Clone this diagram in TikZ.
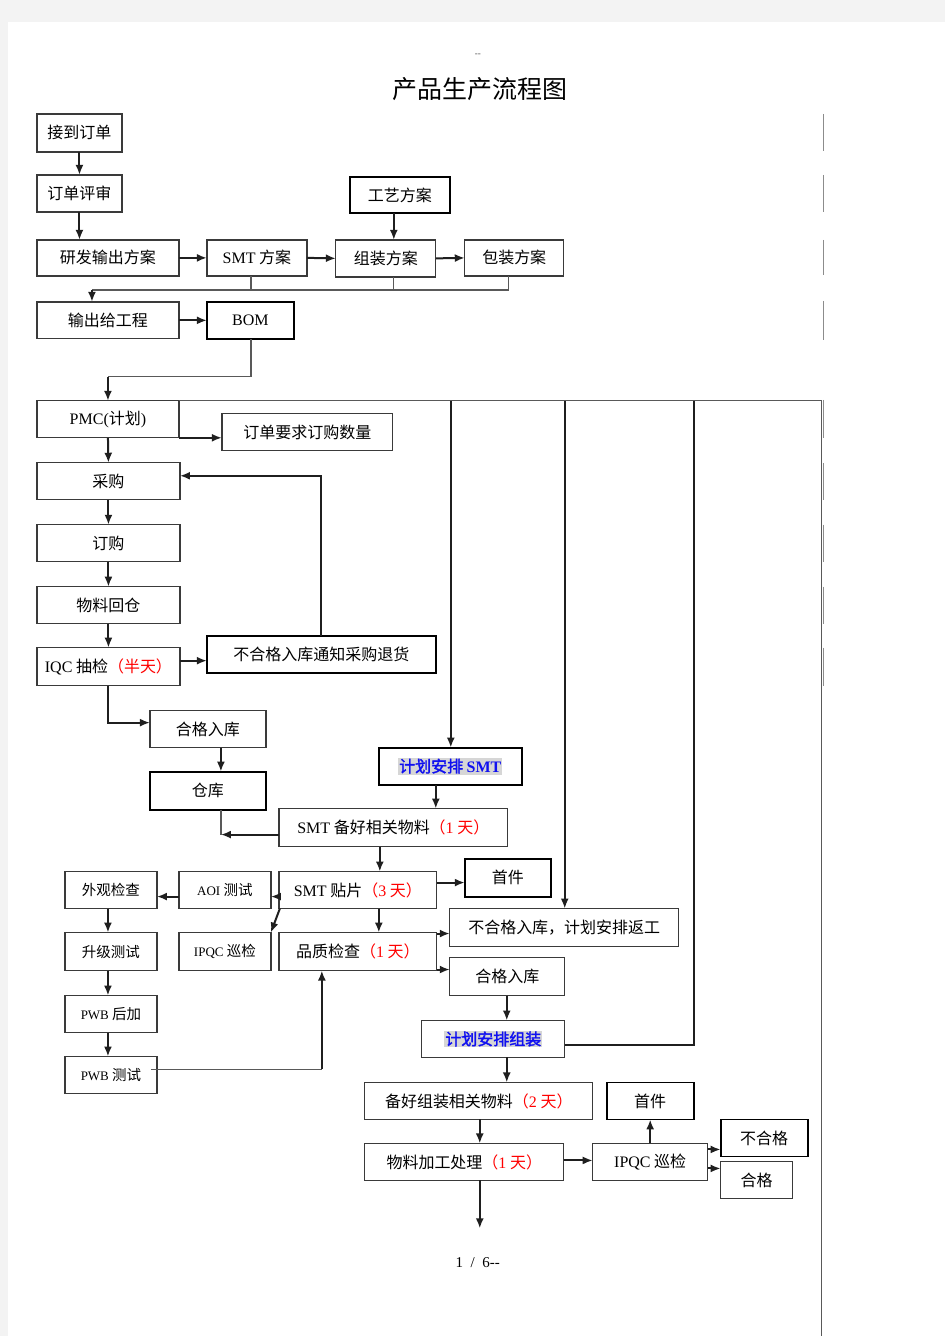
\documentclass[tikz,border=0pt]{standalone}
\usepackage{fontspec}
\setmainfont{Liberation Serif}
\newfontfamily\cj{Noto Sans CJK SC}
\newfontfamily\cjb[FakeBold=2]{Noto Sans CJK SC}
\usetikzlibrary{arrows.meta}
\definecolor{pagebg}{HTML}{F3F3F3}
\definecolor{bord}{HTML}{3A3A3A}
\definecolor{hl}{HTML}{D6D6D6}
\definecolor{blu}{HTML}{1010F0}
\newcommand\enx[1]{{\rmfamily #1}}
\newcommand\rdx[1]{\textcolor{red}{#1}}
\newcommand\bx[7]{\node[#6,minimum width={(#4-#2)*1pt},minimum height={(#5-#3)*1pt}] (#1) at ({(#2+#4)/2},{(#3+#5)/2}) {#7};}
\begin{document}
\begin{tikzpicture}[x=1pt,y=-1pt,
  box/.style={draw=bord,line width=1.3pt,inner sep=0pt,outer sep=0pt,font=\cj\fontsize{16}{18}\selectfont,text=black},
  sbox/.style={box,font=\cj\fontsize{14.5}{16}\selectfont},
  tbox/.style={box,draw=black,line width=1.9pt},
  arr/.style={draw=black!88,line width=2pt,-{Latex[length=10pt,width=8pt]}},
  ln/.style={draw=black!88,line width=2pt},
  gln/.style={draw=black!65,line width=1.3pt},
  bar/.style={draw=black!45,line width=1.6pt}]
\fill[pagebg] (0,0) rectangle (945,1337);
\fill[white] (8,22) rectangle (945,1337);

\node[font=\rmfamily\fontsize{9}{10}\selectfont,text=black!70] (dash) at (478,55) {-{}-};
\node[font=\cj\fontsize{25}{28}\selectfont] (title) at (480,89) {产品生产流程图};
\node[font=\rmfamily\fontsize{15}{16}\selectfont] (pnum) at (478,1263) {1\ \ /\ \ 6-{}-};

% right-side table bars
\foreach \a/\b in {114/151,175/212,240/275,301/340,400/438,463/500,525/562,587/624,648/686}
  \draw[bar] (824,\a) -- (824,\b);

\bx{recv}{37}{114}{122}{152}{box}{接到订单}
\bx{review}{37}{175}{122}{212}{box}{订单评审}
\bx{craft}{350}{177}{450}{213}{tbox}{工艺方案}
\bx{rd}{37}{240}{179}{276}{box}{研发输出方案}
\bx{smtp}{207}{240}{307}{276}{box}{\enx{SMT} 方案}
\bx{asm}{336}{240}{436}{277}{box}{组装方案}
\bx{pack}{465}{240}{564}{276}{box}{包装方案}
\bx{eng}{37}{302}{179}{339}{box}{输出给工程}
\bx{bom}{207}{302}{294}{339}{tbox}{\enx{BOM}}
\bx{pmc}{37}{401}{179}{438}{box}{\enx{PMC(}计划\enx{)}}
\bx{qty}{222}{414}{393}{451}{box}{订单要求订购数量}
\bx{buy}{37}{463}{180}{500}{box}{采购}
\bx{order}{37}{525}{180}{562}{box}{订购}
\bx{back}{37}{587}{180}{624}{box}{物料回仓}
\bx{iqc}{37}{648}{180}{686}{box}{\enx{IQC} 抽检\rdx{（半天）}}
\bx{ng}{207}{636}{436}{673}{tbox}{不合格入库通知采购退货}
\bx{ok1}{150}{711}{266}{748}{box}{合格入库}
\bx{wh}{150}{772}{266}{810}{tbox}{仓库}
\bx{psmt}{379}{748}{522}{785}{tbox}{{\setlength\fboxsep{1pt}\colorbox{hl}{\color{blu}\cjb 计划安排 {\rmfamily\bfseries SMT}}}}
\bx{prep}{279}{809}{508}{847}{box}{\enx{SMT} 备好相关物料\rdx{（\enx{1} 天）}}
\bx{place}{279}{872}{437}{909}{box}{\enx{SMT} 贴片\rdx{（\enx{3} 天）}}
\bx{first1}{465}{859}{551}{897}{tbox}{首件}
\bx{look}{65}{872}{157}{909}{sbox}{外观检查}
\bx{aoi}{179}{872}{271}{909}{sbox}{{\fontsize{13}{14}\selectfont\enx{AOI}} 测试}
\bx{ipqc1}{179}{933}{271}{971}{sbox}{{\fontsize{13}{14}\selectfont\enx{IPQC}} 巡检}
\bx{qc}{279}{933}{437}{971}{box}{品质检查\rdx{（\enx{1} 天）}}
\bx{rework}{450}{909}{679}{947}{box}{不合格入库，计划安排返工}
\bx{ok2}{450}{958}{565}{996}{box}{合格入库}
\bx{up}{65}{933}{157}{971}{sbox}{升级测试}
\bx{pwba}{65}{996}{157}{1033}{sbox}{{\fontsize{13}{14}\selectfont\enx{PWB}} 后加}
\bx{pwbt}{65}{1057}{157}{1094}{sbox}{{\fontsize{13}{14}\selectfont\enx{PWB}} 测试}
\bx{pasm}{422}{1021}{565}{1058}{box}{{\setlength\fboxsep{1pt}\colorbox{hl}{\color{blu}\cjb 计划安排组装}}}
\bx{prep2}{365}{1083}{593}{1120}{box}{备好组装相关物料\rdx{（\enx{2} 天）}}
\bx{first2}{607}{1083}{694}{1120}{tbox}{首件}
\bx{proc}{365}{1144}{564}{1181}{box}{物料加工处理\rdx{（\enx{1} 天）}}
\bx{ipqc2}{593}{1144}{708}{1181}{box}{\enx{IPQC} 巡检}
\bx{fail}{721}{1120}{808}{1157}{tbox}{不合格}
\bx{pass}{721}{1162}{793}{1199}{box}{合格}

% top part
\draw[arr] (recv.south) -- (review.north);
\draw[arr] (review.south) -- (review.south |- rd.north);
\draw[arr] (craft.south -| 394,0) -- (asm.north -| 394,0);
\draw[arr] (rd.east) -- (smtp.west);
\draw[arr] (smtp.east) -- (asm.west);
\draw[arr] (asm.east) -- (pack.west);
\coordinate (busL) at (92,290);
\coordinate (busR) at (509,290);
\draw[gln] (smtp.south -| 251,0) -- (251,290);
\draw[gln] (asm.south -| 394,0) -- (394,290);
\draw[gln] (pack.south -| 509,0) -- (busR) -- (busL);
\draw[arr] (busL) -- (busL |- eng.north);
\draw[arr] (eng.east) -- (bom.west);
\coordinate (b1) at (251,377);
\coordinate (b2) at (108,377);
\draw[gln] (bom.south -| 251,0) -- (b1) -- (b2);
\draw[arr] (b2) -- (pmc.north);

% top right line and frame
\coordinate (tr) at (822,401);
\coordinate (bot) at (822,1337);
\draw[gln] (pmc.north east) -- (tr) -- (bot);
\draw[arr] (pmc.south east) -- (qty.west |- pmc.south east);
\draw[arr] (pmc.south) -- (buy.north);
\draw[arr] (buy.south) -- (order.north);
\draw[arr] (order.south) -- (back.north);
\draw[arr] (back.south) -- (iqc.north);
\draw[arr] (iqc.east |- 0,661) -- (ng.west |- 0,661);
\draw[arr] (ng.north) -- (ng.north |- 0,476) -- (buy.east |- 0,476);
\draw[arr] (iqc.south) -- (iqc.south |- 0,723) -- (ok1.west |- 0,723);
\draw[arr] (ok1.south -| 221,0) -- (wh.north -| 221,0);
\coordinate (j1) at (221,835);
\draw[gln] (wh.south -| 221,0) -- (j1);
\draw[arr] (prep.west |- j1) -- (j1);

% drops from top line
\coordinate (t1) at (451,401);
\coordinate (t2) at (565,401);
\coordinate (t3) at (694,401);
\draw[arr] (t1) -- (t1 |- psmt.north);
\draw[arr] (t2) -- (t2 |- rework.north);
\draw[ln] (t3) -- (694,1045) -- (pasm.east |- 0,1045);

% SMT part
\draw[arr] (psmt.south -| 436,0) -- (prep.north -| 436,0);
\draw[arr] (prep.south -| 380,0) -- (place.north -| 380,0);
\draw[arr] (place.east |- 0,883) -- (first1.west |- 0,883);
\draw[arr] (place.west |- 0,897) -- (aoi.east |- 0,897);
\draw[arr] (aoi.west |- 0,897) -- (look.east |- 0,897);
\draw[arr] ([xshift=1pt]place.south west) -- (ipqc1.north east);
\draw[arr] (place.south -| 379,0) -- (qc.north -| 379,0);
\draw[arr] (qc.east |- 0,934) -- (rework.west |- 0,934);
\draw[arr] (qc.east |- 0,970) -- (ok2.west |- 0,970);
\draw[arr] (look.south -| 108,0) -- (up.north -| 108,0);
\draw[arr] (up.south -| 108,0) -- (pwba.north -| 108,0);
\draw[arr] (pwba.south -| 108,0) -- (pwbt.north -| 108,0);
\coordinate (p1) at (151,1070);
\coordinate (p2) at (322,1070);
\draw[gln] (p1) -- (p2);
\draw[arr] (p2) -- (p2 |- qc.south);
\draw[arr] (ok2.south -| 507,0) -- (pasm.north -| 507,0);
\draw[arr] (pasm.south -| 507,0) -- (prep2.north -| 507,0);
\draw[arr] (prep2.south -| 480,0) -- (proc.north -| 480,0);
\draw[arr] (proc.east |- 0,1161) -- (ipqc2.west |- 0,1161);
\draw[arr] (ipqc2.north) -- (first2.south);
\draw[arr] (ipqc2.east |- 0,1150) -- (fail.west |- 0,1150);
\draw[arr] (ipqc2.east |- 0,1169) -- (pass.west |- 0,1169);
\coordinate (end) at (480,1229);
\draw[arr] (proc.south -| 480,0) -- (end);
\end{tikzpicture}
\end{document}
